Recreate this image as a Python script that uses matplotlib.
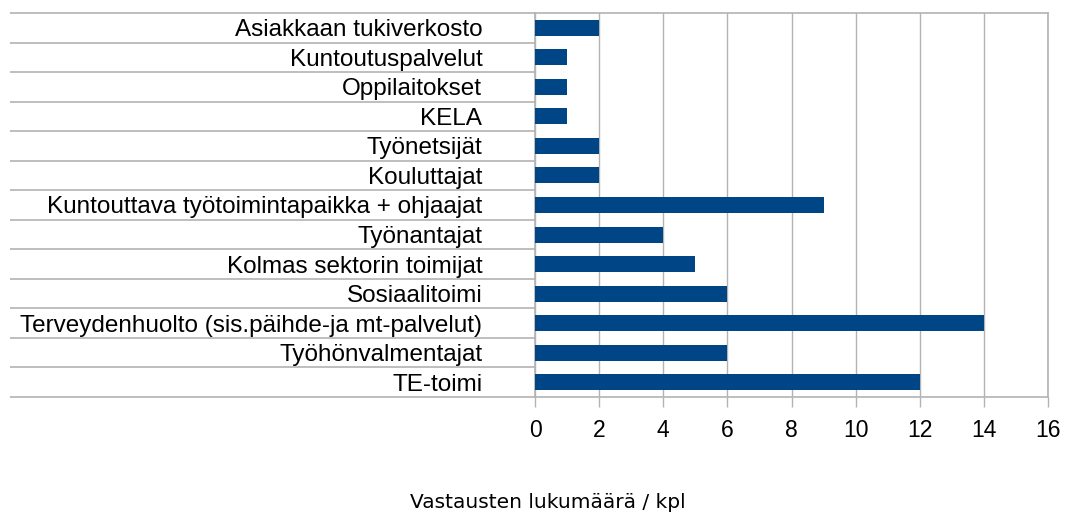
#!/usr/bin/env python3

import numpy as np
import matplotlib
matplotlib.use('Agg')
import matplotlib.pyplot as plt

# categories listed bottom -> top, as drawn
categories = [
    'TE-toimi',
    'Työhönvalmentajat',
    'Terveydenhuolto (sis.päihde-ja mt-palvelut)',
    'Sosiaalitoimi',
    'Kolmas sektorin toimijat',
    'Työnantajat',
    'Kuntouttava työtoimintapaikka + ohjaajat',
    'Kouluttajat',
    'Työnetsijät',
    'KELA',
    'Oppilaitokset',
    'Kuntoutuspalvelut',
    'Asiakkaan tukiverkosto',
]
counts = [12, 6, 14, 6, 5, 4, 9, 2, 2, 1, 1, 1, 2]
xticks = [0, 2, 4, 6, 8, 10, 12, 14, 16]
xlabel = 'Vastausten lukumäärä / kpl'

plt.rcParams['font.family'] = ['Liberation Sans', 'DejaVu Sans']

grey = '#b3b3b3'
blue = '#004586'

fig = plt.figure(figsize=(10.69, 5.13), dpi=100)
ax = fig.add_axes([0.5005, 0.2261, 0.4799, 0.7486])

y = np.arange(len(categories))
ax.barh(y, counts, height=0.54, color=blue, zorder=3)

ax.set_xlim(0, 16)
ax.set_ylim(-0.5, len(categories) - 0.5)
ax.set_xticks(xticks)
ax.set_xticklabels([str(t) for t in xticks], fontsize=16.5)
ax.tick_params(axis='x', direction='out', length=7, width=1, color=grey, pad=9)
ax.grid(axis='x', color=grey, linewidth=1, zorder=0)

# category labels, with long grey separator lines reaching into label area
ax.set_yticks(y)
ax.set_yticklabels(categories, fontsize=17.5)
ax.tick_params(axis='y', which='major', length=0, pad=38)
ax.set_yticks(np.arange(len(categories) + 1) - 0.5, minor=True)
ax.tick_params(axis='y', which='minor', length=378, width=1.2, color=grey)

for side in ['left', 'right', 'top', 'bottom']:
    ax.spines[side].set_color(grey)
    ax.spines[side].set_linewidth(1.2)

fig.text(0.5126, 0.0097, xlabel, ha='center', va='baseline',
         fontsize=14.5, family='DejaVu Sans')

fig.savefig('out.png', dpi=100)
